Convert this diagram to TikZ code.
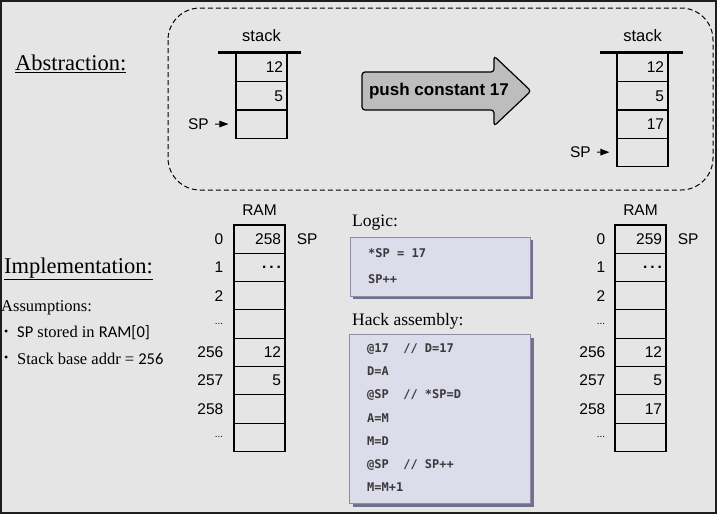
\documentclass[tikz,border=0pt]{standalone}
\usepackage{fontspec}
\setmainfont{Liberation Serif}
\setsansfont{Liberation Sans}
\setmonofont{DejaVu Sans Mono}
\newfontfamily\calib{Carlito}
\usetikzlibrary{positioning,shadows,arrows.meta}

\newcommand{\addrdots}{{\fontsize{10}{10}\selectfont...}}
\newcommand{\celldots}{{\bfseries.\hspace{3pt}.\hspace{3pt}.}}

\begin{document}
\begin{tikzpicture}[x=1pt,y=-1pt,
  cell/.style={draw,line width=1.1pt,minimum width=51pt,minimum height=28.3pt,inner sep=0pt,
    text width=43pt,align=right,font=\sffamily\fontsize{15.5}{15.5}\selectfont},
  lbl/.style={inner sep=0pt,font=\sffamily\fontsize{15.5}{15.5}\selectfont},
  head/.style={anchor=west,inner sep=0pt,font=\fontsize{22.5}{22.5}\selectfont},
  sub/.style={anchor=west,inner sep=0pt,font=\fontsize{17.5}{17.5}\selectfont},
  note/.style={anchor=west,inner sep=0pt,font=\fontsize{16.5}{16.5}\selectfont},
  code/.style={anchor=west,inner sep=0pt,text height=9pt,text depth=2pt,text=codegray,
    font=\ttfamily\bfseries\fontsize{12}{12}\selectfont},
  codebox/.style={draw=boxline,fill=boxfill,line width=1pt,
    drop shadow={shadow xshift=3pt,shadow yshift=-3pt,fill=boxshadow,opacity=.8}},
  sparrow/.style={-{Triangle[length=9pt,width=6.5pt]},line width=1pt,shorten <=6pt,shorten >=7pt}]
\definecolor{bggray}{HTML}{E5E5E5}
\definecolor{framegray}{HTML}{1E1E1E}
\definecolor{arrowgray}{HTML}{BDBDBD}
\definecolor{boxfill}{HTML}{DCDCEA}
\definecolor{boxline}{HTML}{8C8CA6}
\definecolor{boxshadow}{HTML}{55557A}
\definecolor{codegray}{HTML}{3A3A3A}

\fill[bggray] (0,0) rectangle (717,514);
\draw[framegray,line width=2pt] (1,1) rectangle (716,513);

% abstraction
\node[head] (abstr) at (15,64) {\underline{Abstraction:}};
\draw[dash pattern=on 5pt off 3pt,line width=1pt,rounded corners=32pt] (168,8) rectangle (713,190);

\foreach \val/\row in {12/0,5/1,/2}
  {\node[cell] (ls\row) at (261.5,67.5+28.3*\row) {\val};}
\draw[line width=3pt] ([xshift=-17pt]ls0.north west) -- ([xshift=13pt]ls0.north east);
\node[lbl,above=11pt of ls0,font=\sffamily\fontsize{16.5}{16.5}\selectfont] (lstack) {stack};
\node[lbl,anchor=east] (lsp) at (209,124) {SP};
\draw[sparrow] (lsp) -- (ls2);

\draw[fill=arrowgray,line width=1.2pt,rounded corners=3pt]
  (362,72) -- (494,72) -- (494,56) -- (531,91) -- (494,126) -- (494,110) -- (362,110) -- cycle;
\node[font=\sffamily\bfseries\fontsize{17}{17}\selectfont] (push) at (439,91) {push constant 17};

\foreach \val/\row in {12/0,5/1,17/2,/3}
  {\node[cell] (rs\row) at (642.5,67.5+28.3*\row) {\val};}
\draw[line width=3pt] ([xshift=-16pt]rs0.north west) -- ([xshift=14pt]rs0.north east);
\node[lbl,above=11pt of rs0,font=\sffamily\fontsize{16.5}{16.5}\selectfont] (rstack) {stack};
\node[lbl,anchor=east] (rsp) at (591,152) {SP};
\draw[sparrow] (rsp) -- (rs3);

% implementation
\node[head] (impl) at (4,269) {\underline{Implementation:}};
\node[note] (assume) at (1,308) {Assumptions:};
\node[note] (bul1) at (4,333) {\fontsize{12}{12}\selectfont\textbullet};
\node[note] (as1) at (17,333) {{\calib SP} stored in {\calib RAM[0]}};
\node[note] (bul2) at (4,359) {\fontsize{12}{12}\selectfont\textbullet};
\node[note] (as2) at (17,359) {Stack base addr = {\calib 256}};

\foreach \addr/\val/\row in {0/258/0,1/\celldots/1,2//2,\addrdots//3,256/12/4,257/5/5,258//6,\addrdots//7}
  {\node[cell] (lr\row) at (259.5,239.15+28.3*\row) {\val};
   \node[lbl,anchor=east] (la\row) at ([xshift=-10pt]lr\row.west) {\addr};}
\node[lbl,above=9pt of lr0] (lram) {RAM};
\node[lbl,right=11pt of lr0] (lrsp) {SP};

\foreach \addr/\val/\row in {0/259/0,1/\celldots/1,2//2,\addrdots//3,256/12/4,257/5/5,258/17/6,\addrdots//7}
  {\node[cell] (rr\row) at (640.5,239.15+28.3*\row) {\val};
   \node[lbl,anchor=east] (ra\row) at ([xshift=-9pt]rr\row.west) {\addr};}
\node[lbl,above=9pt of rr0] (rram) {RAM};
\node[lbl,right=11pt of rr0] (rrsp) {SP};

% logic and hack code
\node[sub] (logic) at (352,223) {Logic:};
\node[codebox,minimum width=180pt,minimum height=59pt] (logicbox) at (440,266.5) {};
\node[code] (lg1) at (368,254) {*SP = 17};
\node[code] (lg2) at (368,280) {SP++};

\node[sub] (hack) at (352,321) {Hack assembly:};
\node[codebox,minimum width=181pt,minimum height=169pt] (hackbox) at (440,419) {};
\foreach \line [count=\i from 0] in {@17\ \ // D=17,D=A,@SP\ \ // *SP=D,A=M,M=D,@SP\ \ // SP++,M=M+1}
  {\node[code] (hk\i) at (367,349+23.2*\i) {\line};}
\end{tikzpicture}
\end{document}
